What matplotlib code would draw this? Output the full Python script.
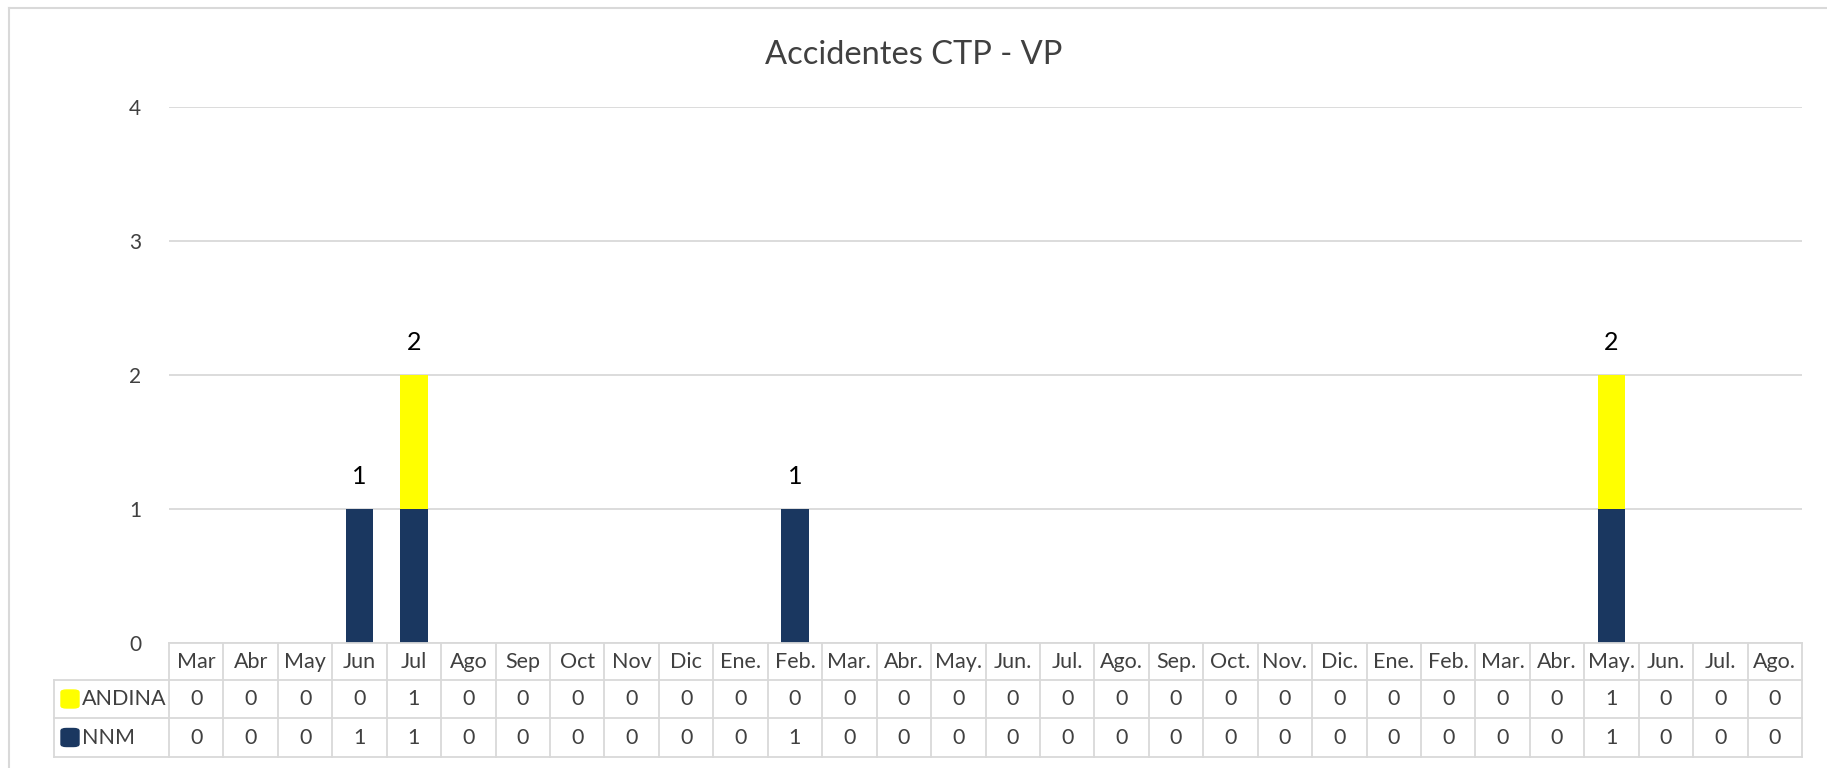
import matplotlib.pyplot as plt
import matplotlib.transforms as mtransforms
from matplotlib.patches import FancyBboxPatch
from matplotlib.lines import Line2D

plt.rcParams['font.family'] = ['Lato', 'DejaVu Sans']

# datos
meses = ['Mar', 'Abr', 'May', 'Jun', 'Jul', 'Ago', 'Sep', 'Oct', 'Nov', 'Dic',
         'Ene.', 'Feb.', 'Mar.', 'Abr.', 'May.', 'Jun.', 'Jul.', 'Ago.', 'Sep.',
         'Oct.', 'Nov.', 'Dic.', 'Ene.', 'Feb.', 'Mar.', 'Abr.', 'May.', 'Jun.',
         'Jul.', 'Ago.']
andina = [0, 0, 0, 0, 1, 0, 0, 0, 0, 0, 0, 0, 0, 0, 0, 0, 0, 0, 0, 0, 0, 0,
          0, 0, 0, 0, 1, 0, 0, 0]
nnm = [0, 0, 0, 1, 1, 0, 0, 0, 0, 0, 0, 1, 0, 0, 0, 0, 0, 0, 0, 0, 0, 0,
       0, 0, 0, 0, 1, 0, 0, 0]

azul = '#1a3760'
amarillo = '#ffff00'
gris = '#d9d9d9'
texto = '#404040'

W, H = 1827, 768
fig = plt.figure(figsize=(W / 100, H / 100), dpi=100)
ax = fig.add_axes([169 / W, (H - 643) / H, (1802 - 169) / W, (643 - 107) / H])

n = len(meses)
x = list(range(n))
ax.bar(x, nnm, width=0.5, color=azul, zorder=3)
ax.bar(x, andina, width=0.5, bottom=nnm, color=amarillo, zorder=3)

# etiquetas de total
for i in x:
    tot = nnm[i] + andina[i]
    if tot > 0:
        ax.text(i, tot + 0.24, str(tot), ha='center', va='center',
                fontsize=18, color='black')

ax.set_xlim(-0.5, n - 0.5)
ax.set_ylim(0, 4)
ax.set_yticks([0, 1, 2, 3, 4])
ax.tick_params(axis='y', length=0, labelsize=15, labelcolor=texto, pad=20)
ax.set_xticks([])
ax.grid(axis='y', color=gris, linewidth=1.3, zorder=0)
for s in ax.spines.values():
    s.set_visible(False)

fig.suptitle('Accidentes CTP - VP', y=1 - 55 / H, va='center',
             fontsize=23.5, color=texto)

# tabla de datos
tr = mtransforms.blended_transform_factory(ax.transData, fig.transFigure)
trf = fig.transFigure
ytop = (H - 643) / H
y1 = (H - 680) / H
y2 = (H - 718) / H
y3 = (H - 757) / H
x_leg = 54 / W

lw = 1.3
fig.add_artist(Line2D([-0.5, n - 0.5], [ytop, ytop], transform=tr, color=gris, lw=lw))
for yy in [y1, y2, y3]:
    fig.add_artist(Line2D([x_leg, 1802 / W], [yy, yy], transform=trf, color=gris, lw=lw))
for k in range(n + 1):
    fig.add_artist(Line2D([k - 0.5, k - 0.5], [ytop, y3], transform=tr, color=gris, lw=lw))
fig.add_artist(Line2D([x_leg, x_leg], [y1, y3], transform=trf, color=gris, lw=lw))

for i in x:
    fig.text(i, (ytop + y1) / 2, meses[i], transform=tr, ha='center', va='center',
             fontsize=15.5, color=texto)
    fig.text(i, (y1 + y2) / 2, str(andina[i]), transform=tr, ha='center', va='center',
             fontsize=15.5, color=texto)
    fig.text(i, (y2 + y3) / 2, str(nnm[i]), transform=tr, ha='center', va='center',
             fontsize=15.5, color=texto)

for nombre, col, ya, yb in [('ANDINA', amarillo, y1, y2), ('NNM', azul, y2, y3)]:
    yc = (ya + yb) / 2
    sw = 18
    fig.add_artist(FancyBboxPatch((61 / W, yc - sw / 2 / H), sw / W, sw / H,
                                  boxstyle='round,pad=0,rounding_size=0.003',
                                  transform=trf, color=col))
    fig.text(82 / W, yc, nombre, ha='left', va='center', fontsize=15.5, color=texto)

# borde del grafico
fig.add_artist(Line2D([9 / W, 9 / W], [0, 1 - 8 / H], transform=trf, color=gris, lw=1.5))
fig.add_artist(Line2D([9 / W, 1], [1 - 8 / H, 1 - 8 / H], transform=trf, color=gris, lw=1.5))

fig.savefig('out.png', dpi=100)
